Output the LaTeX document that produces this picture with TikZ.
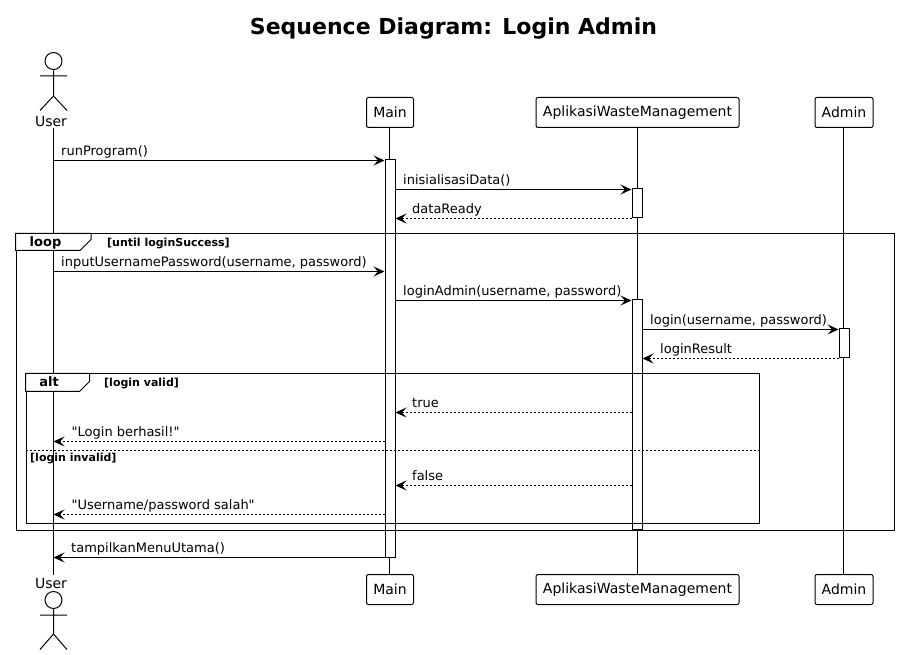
\documentclass[tikz,border=0pt]{standalone}
\usepackage{fontspec}
\setmainfont{DejaVu Sans}
\newfontfamily\plainfont{DejaVu Sans}
\usetikzlibrary{arrows.meta, positioning, calc}
\tikzstyle{lifeline} = [line width=1pt, draw=black]
\tikzstyle{head} = [rectangle, draw, line width=1pt, fill=white, rounded corners=2pt,
    minimum height=30pt, inner xsep=0pt, font=\fontsize{14}{16}\selectfont]
\tikzstyle{activation} = [rectangle, draw, line width=1pt, fill=white, minimum width=10pt, inner sep=0pt]
\tikzstyle{call} = [line width=1pt, -{Stealth[length=11pt, width=10pt, inset=4.5pt]}]
\tikzstyle{reply} = [call, dash pattern=on 2pt off 2pt]
\tikzstyle{msgtext} = [anchor=base west, inner sep=0pt, font=\fontsize{13}{15}\plainfont\selectfont]
\tikzstyle{frame} = [line width=1pt, draw=black]
\tikzstyle{tab} = [line width=1pt, draw=black, fill=white]
\tikzstyle{guard} = [anchor=base west, inner sep=0pt, font=\fontsize{11}{13}\selectfont\bfseries]
\tikzstyle{tabname} = [anchor=base, inner sep=0pt, font=\fontsize{13}{15}\selectfont\bfseries]
\tikzstyle{actorname} = [anchor=base, inner sep=0pt, font=\fontsize{14}{16}\selectfont]

\begin{document}
\begin{tikzpicture}[x=1pt, y=-1pt]
    \useasboundingbox (0,0) rectangle (898,655);

    % Title
    \node [anchor=base, inner sep=0pt, font=\fontsize{22}{26}\selectfont\bfseries] (title) at (453.5,35)
        {Sequence Diagram: Login Admin};

    % Participant boxes
    \node [head, minimum width=47pt] (main_top) at (390,112.5) {Main};
    \node [head, minimum width=203pt] (app_top) at (637.5,112.5) {AplikasiWasteManagement};
    \node [head, minimum width=58pt] (admin_top) at (844,112.5) {Admin};
    \node [head, minimum width=47pt] (main_bot) at (390,589.5) {Main};
    \node [head, minimum width=203pt] (app_bot) at (637.5,589.5) {AplikasiWasteManagement};
    \node [head, minimum width=58pt] (admin_bot) at (844,589.5) {Admin};

    % Actor names and lifeline ends
    \node [actorname] (user_top) at (51,126.5) {User};
    \node [actorname] (user_bot) at (51,588) {User};
    \coordinate (user_a) at (53.5,128);
    \coordinate (user_b) at (53.5,575);

    % Lifelines
    \draw [lifeline] (user_a) -- (user_b);
    \draw [lifeline] (main_top.south -| 389.5,0) -- (main_bot.north -| 389.5,0);
    \draw [lifeline] (app_top.south -| 637,0) -- (app_bot.north -| 637,0);
    \draw [lifeline] (admin_top.south -| 843,0) -- (admin_bot.north -| 843,0);

    % Actor figures
    \draw [lifeline, fill=white] (53.5,61) circle (8.5);
    \draw [lifeline] (53.5,69.5) -- (53.5,96) (40,76) -- (67,76) (40,110.5) -- (53.5,96) -- (67,110.5);
    \draw [lifeline, fill=white] (53.5,600) circle (8.5);
    \draw [lifeline] (53.5,608.5) -- (53.5,634) (40,615) -- (67,615) (40,649.5) -- (53.5,634) -- (67,649.5);

    % Activations
    \node [activation, minimum height=397pt] (main_act) at (390,358.5) {};
    \node [activation, minimum height=29pt] (app_init) at (637,203.5) {};
    \node [activation, minimum height=229pt] (app_act) at (637,414.5) {};
    \node [activation, minimum height=29pt] (admin_act) at (844,343.5) {};

    % Loop frame
    \node [frame, rectangle, draw, anchor=north west, minimum width=878pt, minimum height=296pt, inner sep=0pt] (loop_box) at (15.5,233.5) {};
    \draw [tab] (loop_box.north west) -- ++(75.5,0) -- ++(0,6) -- ++(-11,11) -- ++(-64.5,0) -- cycle;
    \node [tabname] (loop_name) at (45.5,246.5) {loop};
    \node [guard] (loop_guard) at (107,246.5) {[until loginSuccess]};

    % Alt frame
    \node [frame, rectangle, draw, anchor=north west, minimum width=733.5pt, minimum height=149pt, inner sep=0pt] (alt_box) at (25.5,373.5) {};
    \draw [tab] (alt_box.north west) -- ++(64,0) -- ++(0,8) -- ++(-10,10) -- ++(-54,0) -- cycle;
    \node [tabname] (alt_name) at (49,387) {alt};
    \node [guard] (alt_guard) at (104,386.5) {[login valid]};
    \coordinate (alt_split) at (0,450.5);
    \draw [frame, dash pattern=on 2pt off 2pt] (alt_box.west |- alt_split) -- (alt_box.east |- alt_split);
    \node [guard] (alt_guard2) at (30,461.5) {[login invalid]};

    % Message rows
    \coordinate (r_run) at (0,160.5);
    \coordinate (r_init) at (0,189.5);
    \coordinate (r_ready) at (0,218.5);
    \coordinate (r_input) at (0,271.5);
    \coordinate (r_admin) at (0,300.5);
    \coordinate (r_login) at (0,329.5);
    \coordinate (r_result) at (0,358.5);
    \coordinate (r_true) at (0,412.5);
    \coordinate (r_ok) at (0,441.5);
    \coordinate (r_false) at (0,485.5);
    \coordinate (r_bad) at (0,514.5);
    \coordinate (r_menu) at (0,557.5);

    % Messages
    \draw [call] (user_a |- r_run) -- (main_act.west |- r_run);
    \node [msgtext] (t_run) at (61,155.5) {runProgram()};
    \draw [call] (main_act.east |- r_init) -- (app_init.west |- r_init);
    \node [msgtext] (t_init) at (403,184.5) {inisialisasiData()};
    \draw [reply] (app_init.west |- r_ready) -- (main_act.east |- r_ready);
    \node [msgtext] (t_ready) at (412,213.5) {dataReady};
    \draw [call] (user_a |- r_input) -- (main_act.west |- r_input);
    \node [msgtext] (t_input) at (61,266.5) {inputUsernamePassword(username, password)};
    \draw [call] (main_act.east |- r_admin) -- (app_act.west |- r_admin);
    \node [msgtext] (t_admin) at (403,296) {loginAdmin(username, password)};
    \draw [call] (app_act.east |- r_login) -- (admin_act.west |- r_login);
    \node [msgtext] (t_login) at (650,325) {login(username, password)};
    \draw [reply] (admin_act.west |- r_result) -- (app_act.east |- r_result);
    \node [msgtext] (t_result) at (660,354) {loginResult};
    \draw [reply] (app_act.west |- r_true) -- (main_act.east |- r_true);
    \node [msgtext] (t_true) at (412,407.5) {true};
    \draw [reply] (main_act.west |- r_ok) -- (user_a |- r_ok);
    \node [msgtext] (t_ok) at (71.5,436.5) {"Login berhasil!"};
    \draw [reply] (app_act.west |- r_false) -- (main_act.east |- r_false);
    \node [msgtext] (t_false) at (412,480.5) {false};
    \draw [reply] (main_act.west |- r_bad) -- (user_a |- r_bad);
    \node [msgtext] (t_bad) at (71.5,509.5) {"Username/password salah"};
    \draw [call] (main_act.west |- r_menu) -- (user_a |- r_menu);
    \node [msgtext] (t_menu) at (71,552.5) {tampilkanMenuUtama()};
\end{tikzpicture}
\end{document}
